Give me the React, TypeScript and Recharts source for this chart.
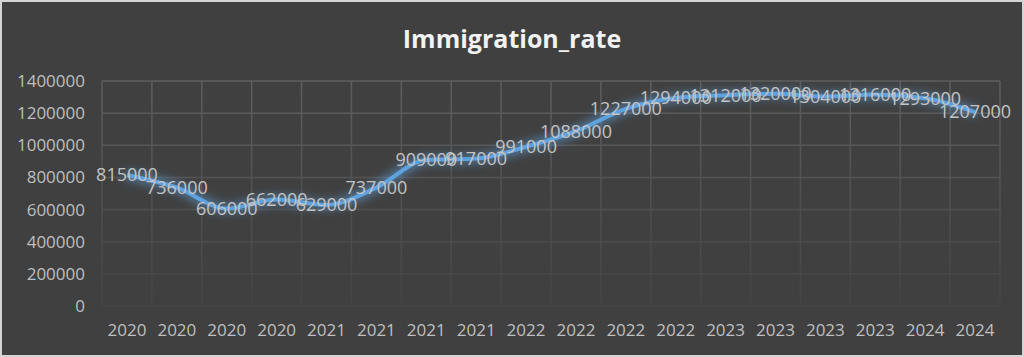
import { LineChart, Line, XAxis, YAxis, CartesianGrid, LabelList } from 'recharts'

const years = ['2020', '2020', '2020', '2020', '2021', '2021', '2021', '2021', '2022', '2022', '2022', '2022', '2023', '2023', '2023', '2023', '2024', '2024']
const immigration = [815000, 736000, 606000, 662000, 629000, 737000, 909000, 917000, 991000, 1088000, 1227000, 1294000, 1312000, 1320000, 1304000, 1316000, 1293000, 1207000]
const yTicks = [0, 200000, 400000, 600000, 800000, 1000000, 1200000, 1400000]

const data = years.map((year, i) => ({ year, value: immigration[i] }))

const font = '"Open Sans", "Liberation Sans", sans-serif'

// excel style category axis: gridlines sit between categories
const boundaries = ({ offset }: { offset: { left: number; width: number } }) =>
  data.map((_, i) => offset.left + (i * offset.width) / data.length).concat(offset.left + offset.width)

export default function App() {
  return (
    <div
      style={{
        position: 'absolute', top: 0, left: 0, width: 1024, height: 357, boxSizing: 'border-box',
        background: '#404040', border: '2px solid #d4d4d4', fontFamily: font,
      }}
    >
      <div style={{ position: 'absolute', top: 19, left: 0, width: '100%', textAlign: 'center', color: '#f2f2f2', fontSize: 25, fontWeight: 700 }}>
        Immigration_rate
      </div>
      <LineChart width={1020} height={353} data={data} margin={{ top: 79, right: 22, left: 0, bottom: 0 }} style={{ position: 'absolute', top: 0, left: 0 }}>
        <defs>
          <linearGradient id="gridFade" gradientUnits="userSpaceOnUse" x1="0" y1="79" x2="0" y2="304">
            <stop offset="0%" stopColor="#5e5e5e" />
            <stop offset="100%" stopColor="#444444" />
          </linearGradient>
          <filter id="glow" x="-10%" y="-60%" width="120%" height="220%">
            <feMorphology in="SourceGraphic" operator="dilate" radius="2" result="fat" />
            <feGaussianBlur in="fat" stdDeviation="5" result="blur" />
            <feComponentTransfer in="blur" result="soft">
              <feFuncA type="linear" slope="0.6" />
            </feComponentTransfer>
            <feMerge>
              <feMergeNode in="soft" />
              <feMergeNode in="SourceGraphic" />
            </feMerge>
          </filter>
        </defs>
        <CartesianGrid stroke="url(#gridFade)" strokeWidth={1.5} verticalCoordinatesGenerator={boundaries} />
        <XAxis dataKey="year" axisLine={false} tickLine={false} height={49} padding={{ left: 25, right: 25 }} tick={{ fill: '#bfbfbf', fontSize: 17 }} dy={10} interval={0} />
        <YAxis domain={[0, 1400000]} ticks={yTicks} axisLine={false} tickLine={false} width={100} tick={{ fill: '#bfbfbf', fontSize: 17 }} dx={-9} />
        <Line
          dataKey="value"
          type="monotone"
          stroke="#5ea2e0"
          strokeWidth={4}
          dot={false}
          filter="url(#glow)"
          isAnimationActive={false}
        >
          <LabelList dataKey="value" position="center" fill="#c4c4c4" fontSize={18} />
        </Line>
      </LineChart>
    </div>
  )
}
